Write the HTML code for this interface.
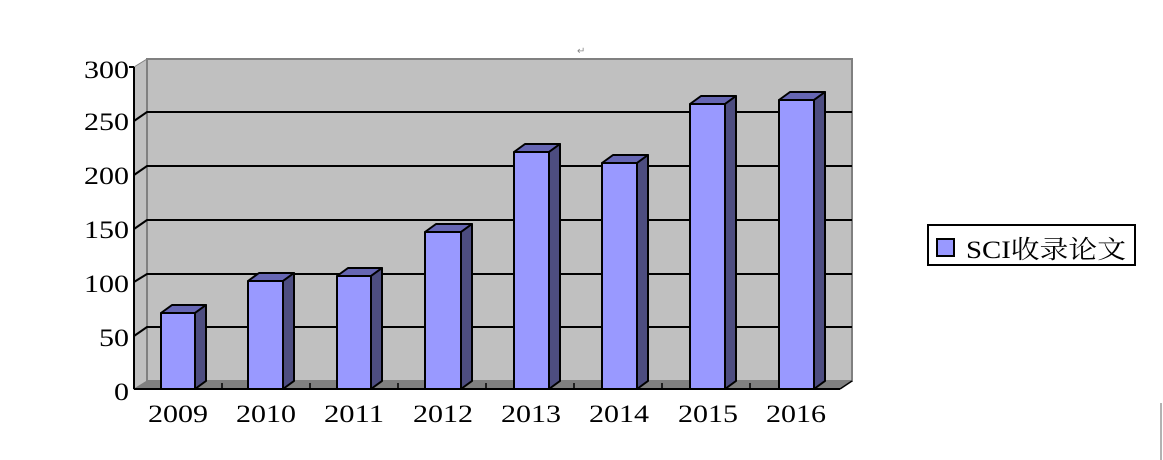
<!DOCTYPE html>
<html><head><meta charset="utf-8"><style>
body{margin:0;background:#fff}
svg{display:block}
text{font-family:"Liberation Serif","Noto Serif CJK SC",serif;font-size:25px;fill:#000}
</style></head><body>
<svg width="1163" height="460" viewBox="0 0 1163 460" xmlns="http://www.w3.org/2000/svg">
<rect width="1163" height="460" fill="#fff"/>
<polygon points="134,67 147,59 147,381 134,389" fill="#c0c0c0" stroke="#808080" stroke-width="1"/>
<rect x="147" y="59" width="705" height="322" fill="#c0c0c0" stroke="#808080" stroke-width="2"/>
<polygon points="134,389 147,381 852,381 840,389" fill="#808080"/>
<g stroke="#000" stroke-width="2" fill="none">
<polyline points="134,121 147,112 852,112"/>
<polyline points="134,175 147,166 852,166"/>
<polyline points="134,229 147,220 852,220"/>
<polyline points="134,282 147,274 852,274"/>
<polyline points="134,336 147,327 852,327"/>
<line x1="134" y1="67" x2="134" y2="389"/>
<line x1="134" y1="389" x2="840" y2="389"/>
<line x1="134" y1="67" x2="129" y2="67"/>
</g>
<g stroke="#000" stroke-width="1.5">
<line x1="222" y1="389" x2="222" y2="383"/><line x1="310" y1="389" x2="310" y2="383"/>
<line x1="398" y1="389" x2="398" y2="383"/><line x1="486" y1="389" x2="486" y2="383"/>
<line x1="574" y1="389" x2="574" y2="383"/><line x1="662" y1="389" x2="662" y2="383"/>
<line x1="750" y1="389" x2="750" y2="383"/><line x1="840" y1="389" x2="852" y2="381"/>
</g>
<g stroke="#000" stroke-width="2" stroke-linejoin="round">
<polygon points="161,313 172,305 206,305 195,313" fill="#6666b3"/><polygon points="195,313 206,305 206,381 195,389" fill="#4d4d80"/><rect x="161" y="313" width="34" height="76" fill="#9999ff"/>
<polygon points="248,281 259,273 294,273 283,281" fill="#6666b3"/><polygon points="283,281 294,273 294,381 283,389" fill="#4d4d80"/><rect x="248" y="281" width="35" height="108" fill="#9999ff"/>
<polygon points="337,276 348,268 382,268 371,276" fill="#6666b3"/><polygon points="371,276 382,268 382,381 371,389" fill="#4d4d80"/><rect x="337" y="276" width="34" height="113" fill="#9999ff"/>
<polygon points="425,232 436,224 472,224 461,232" fill="#6666b3"/><polygon points="461,232 472,224 472,381 461,389" fill="#4d4d80"/><rect x="425" y="232" width="36" height="157" fill="#9999ff"/>
<polygon points="514,152 525,144 560,144 549,152" fill="#6666b3"/><polygon points="549,152 560,144 560,381 549,389" fill="#4d4d80"/><rect x="514" y="152" width="35" height="237" fill="#9999ff"/>
<polygon points="602,163 613,155 648,155 637,163" fill="#6666b3"/><polygon points="637,163 648,155 648,381 637,389" fill="#4d4d80"/><rect x="602" y="163" width="35" height="226" fill="#9999ff"/>
<polygon points="690,104 701,96 736,96 725,104" fill="#6666b3"/><polygon points="725,104 736,96 736,381 725,389" fill="#4d4d80"/><rect x="690" y="104" width="35" height="285" fill="#9999ff"/>
<polygon points="779,100 790,92 825,92 814,100" fill="#6666b3"/><polygon points="814,100 825,92 825,381 814,389" fill="#4d4d80"/><rect x="779" y="100" width="35" height="289" fill="#9999ff"/>
</g>
<g lengthAdjust="spacingAndGlyphs">
<text x="84" y="78" textLength="45" lengthAdjust="spacingAndGlyphs">300</text>
<text x="84" y="130" textLength="45" lengthAdjust="spacingAndGlyphs">250</text>
<text x="84" y="184" textLength="45" lengthAdjust="spacingAndGlyphs">200</text>
<text x="84" y="238" textLength="45" lengthAdjust="spacingAndGlyphs">150</text>
<text x="84" y="292" textLength="45" lengthAdjust="spacingAndGlyphs">100</text>
<text x="99" y="346" textLength="30" lengthAdjust="spacingAndGlyphs">50</text>
<text x="114" y="400" textLength="15" lengthAdjust="spacingAndGlyphs">0</text>
<text x="148" y="422" textLength="60" lengthAdjust="spacingAndGlyphs">2009</text>
<text x="236" y="422" textLength="60" lengthAdjust="spacingAndGlyphs">2010</text>
<text x="324" y="422" textLength="60" lengthAdjust="spacingAndGlyphs">2011</text>
<text x="413" y="422" textLength="60" lengthAdjust="spacingAndGlyphs">2012</text>
<text x="501" y="422" textLength="60" lengthAdjust="spacingAndGlyphs">2013</text>
<text x="589" y="422" textLength="60" lengthAdjust="spacingAndGlyphs">2014</text>
<text x="678" y="422" textLength="60" lengthAdjust="spacingAndGlyphs">2015</text>
<text x="766" y="422" textLength="60" lengthAdjust="spacingAndGlyphs">2016</text>
</g>
<text x="577" y="54" style="font-size:10px;fill:#888">↵</text>
<rect x="928" y="225" width="207" height="40" fill="#fff" stroke="#000" stroke-width="2"/>
<rect x="937" y="239" width="17" height="17" fill="#9999ff" stroke="#000" stroke-width="2"/>
<text x="966" y="258" style="font-size:25px" textLength="160" lengthAdjust="spacingAndGlyphs">SCI收录论文</text>
<line x1="1161" y1="403" x2="1161" y2="460" stroke="#999" stroke-width="1.5"/>
</svg>
</body></html>
